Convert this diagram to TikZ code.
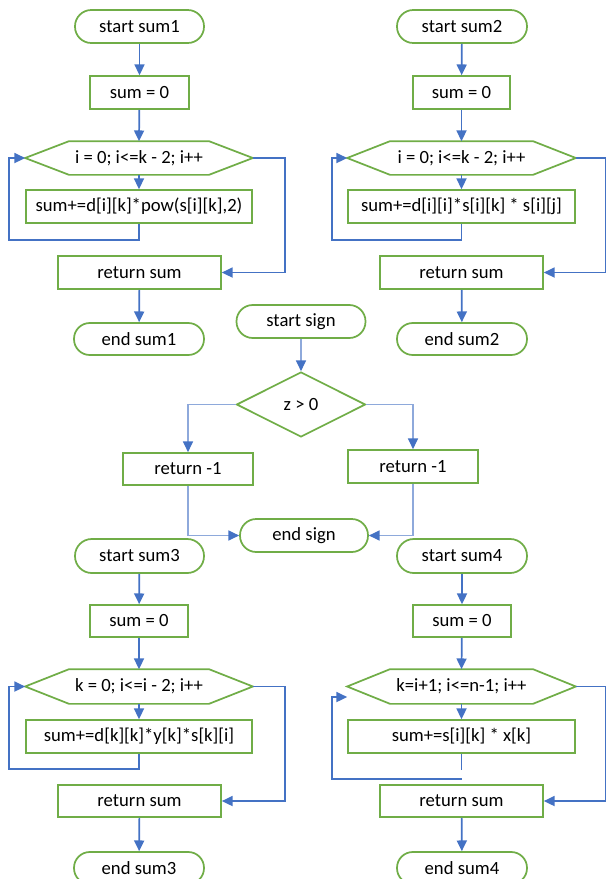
\documentclass[tikz,border=0pt]{standalone}
\usepackage{fontspec}
\setmainfont{Carlito}
\usetikzlibrary{arrows.meta,calc,shapes.geometric}
\definecolor{grn}{HTML}{70AD47}
\definecolor{blu}{HTML}{4472C4}
\definecolor{lblu}{HTML}{8EA9DB}
\newcommand\hexoutline[2]{%
  \draw[grn,line width=1.3pt] (#1.west) -- ($(#1.north west)+(#2,0)$) -- ($(#1.north east)+(-#2,0)$)
     -- (#1.east) -- ($(#1.south east)+(-#2,0)$) -- ($(#1.south west)+(#2,0)$) -- cycle;}
\begin{document}
\begin{tikzpicture}[x=0.75pt,y=-0.75pt,
  base/.style={draw=grn,line width=1.3pt,inner sep=0pt,font=\fontsize{14}{16}\selectfont,text=black},
  termbox/.style 2 args={base,rectangle,rounded corners=#2*0.37pt,minimum width=#1*0.75pt,minimum height=#2*0.75pt},
  procbox/.style 2 args={base,rectangle,minimum width=#1*0.75pt,minimum height=#2*0.75pt},
  hexbox/.style 2 args={procbox={#1}{#2},draw=none},
  decbox/.style 2 args={base,diamond,minimum width=#1*0.75pt,minimum height=#2*0.75pt},
  flow/.style={blu,line width=1.3pt,-{Triangle[length=8pt,width=7.5pt]}},
  plain/.style={blu,line width=1.3pt},
  thinflow/.style={lblu,line width=0.9pt,-{Triangle[length=8pt,width=7.5pt,color=blu]}}
]
\useasboundingbox (0,0) rectangle (606,879);

% ---------- sum1 ----------
\node[termbox={129}{33}] (s1start) at (139.5,26.5) {start sum1};
\node[procbox={99}{33}] (s1init) at (139.5,92.5) {sum = 0};
\node[hexbox={226}{32}] (s1loop) at (139,158) {i = 0; i<=k - 2; i++};
\hexoutline{s1loop}{44}
\node[procbox={226}{33}] (s1body) at (139,206.5) {sum+=d[i][k]*pow(s[i][k],2)};
\node[procbox={163}{33}] (s1ret) at (139.5,272.5) {return sum};
\node[termbox={130}{32}] (s1end) at (139,339) {end sum1};
\draw[flow] (s1start) -- (s1init);
\draw[flow] (s1init) -- (s1loop.north);
\draw[flow] (s1loop.south) -- (s1body);
\draw[flow] (s1body.south) -- ++(0,16) -| ($(s1loop.west)+(-16,0)$) -- (s1loop.west);
\draw[flow] (s1loop.east) -- ++(32,0) |- (s1ret.east);
\draw[flow] (s1ret) -- (s1end);

% ---------- sum2 ----------
\node[termbox={130}{33}] (s2start) at (462,26.5) {start sum2};
\node[procbox={97}{33}] (s2init) at (461.5,92.5) {sum = 0};
\node[hexbox={227}{32}] (s2loop) at (461.5,158) {i = 0; i<=k - 2; i++};
\hexoutline{s2loop}{43}
\node[procbox={227}{33}] (s2body) at (461.5,206.5) {sum+=d[i][i]*s[i][k] * s[i][j]};
\node[procbox={163}{33}] (s2ret) at (461.5,272.5) {return sum};
\node[termbox={130}{32}] (s2end) at (462,339) {end sum2};
\draw[flow] (s2start) -- (s2init);
\draw[flow] (s2init) -- (s2loop.north);
\draw[flow] (s2loop.south) -- (s2body);
\draw[flow] (s2body.south) -- ++(0,16) -| ($(s2loop.west)+(-15,0)$) -- (s2loop.west);
\draw[flow] (s2loop.east) -- ++(30,0) |- (s2ret.east);
\draw[flow] (s2ret) -- (s2end);

% ---------- sign ----------
\node[termbox={129}{33}] (sgstart) at (301,321.5) {start sign};
\node[decbox={129}{65}] (sgdec) at (301,404.5) {z > 0};
\node[procbox={130}{32}] (sgl) at (188,469) {return -1};
\node[procbox={130}{33}] (sgr) at (413,466.5) {return -1};
\node[termbox={128}{33}] (sgend) at (304,535.5) {end sign};
\draw[thinflow] (sgstart) -- (sgdec);
\draw[thinflow] (sgdec.west) -| (sgl.north);
\draw[thinflow] (sgdec.east) -| (sgr.north);
\draw[thinflow] (sgl.south) |- (sgend.west);
\draw[thinflow] (sgr.south) |- (sgend.east);

% ---------- sum3 ----------
\node[termbox={129}{34}] (s3start) at (139.5,556) {start sum3};
\node[procbox={98}{32}] (s3init) at (139,621) {sum = 0};
\node[hexbox={226}{33}] (s3loop) at (139,686.5) {k = 0; i<=i - 2; i++};
\hexoutline{s3loop}{44}
\node[procbox={226}{33}] (s3body) at (139,736.5) {sum+=d[k][k]*y[k]*s[k][i]};
\node[procbox={163}{32}] (s3ret) at (139.5,801) {return sum};
\node[termbox={130}{32}] (s3end) at (139,868) {end sum3};
\draw[flow] (s3start) -- (s3init);
\draw[flow] (s3init) -- (s3loop.north);
\draw[flow] (s3loop.south) -- (s3body);
\draw[flow] (s3body.south) -- ++(0,15) -| ($(s3loop.west)+(-16,0)$) -- (s3loop.west);
\draw[flow] (s3loop.east) -- ++(32,0) |- (s3ret.east);
\draw[flow] (s3ret) -- (s3end);

% ---------- sum4 ----------
\node[termbox={130}{34}] (s4start) at (462,556) {start sum4};
\node[procbox={98}{32}] (s4init) at (462,621) {sum = 0};
\node[hexbox={227}{33}] (s4loop) at (461.5,686.5) {k=i+1; i<=n-1; i++};
\hexoutline{s4loop}{43}
\node[procbox={227}{33}] (s4body) at (461.5,736.5) {sum+=s[i][k] * x[k]};
\node[procbox={163}{32}] (s4ret) at (461.5,801) {return sum};
\node[termbox={130}{32}] (s4end) at (462,868) {end sum4};
\coordinate (s4gap) at ($(s4body.south)+(0,25)$);
\draw[flow] (s4start) -- (s4init);
\draw[flow] (s4init) -- (s4loop.north);
\draw[flow] (s4loop.south) -- (s4body);
\draw[plain] (s4body.south) -- ++(0,16);
\draw[flow] (s4gap) -| ($(s4loop.west)+(-15,10.5)$) -- ($(s4loop.west)+(0,10.5)$);
\draw[flow] (s4loop.east) -- ++(30,0) |- (s4ret.east);
\draw[flow] (s4ret) -- (s4end);
\end{tikzpicture}
\end{document}
